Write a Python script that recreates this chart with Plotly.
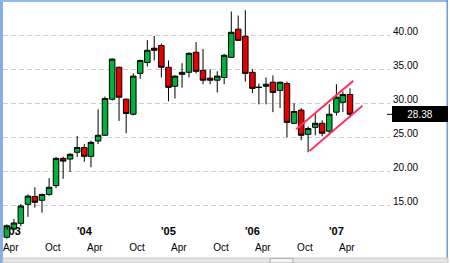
import pandas as pd
import plotly.graph_objects as go

# ---- data (monthly candles, Mar 2003 .. Apr 2007) ----
months = pd.date_range("2003-03-01", periods=50, freq="MS") + pd.Timedelta(days=14)
opens = [10.3, 11.5, 12.35, 15.15, 16.3, 15.74, 16.6, 17.9, 21.9, 21.8,
         22.8, 23.5, 22.2, 24.46, 25.3, 30.6, 35.3, 30.6, 28.4, 34.4,
         36.0, 38.1, 38.5, 35.3, 32.5, 34.26, 34.56, 37.5, 34.85, 33.7,
         33.4, 33.8, 36.76, 40.9, 39.85, 34.56, 32.35, 32.5, 33.1, 31.9,
         32.9, 27.06, 29.0, 25.44, 26.47, 27.06, 25.9, 28.7, 30.15, 31.3]
highs = [12.2, 13.0, 15.2, 16.6, 17.65, 16.7, 19.0, 22.1, 22.15, 22.7,
         25.2, 24.0, 24.5, 29.1, 31.0, 36.6, 35.4, 30.7, 34.4, 36.4,
         39.3, 39.9, 38.8, 36.3, 34.1, 35.9, 37.5, 39.0, 38.0, 35.0,
         34.7, 37.25, 43.5, 42.9, 43.7, 35.0, 32.9, 33.8, 34.1, 33.2,
         33.2, 30.0, 29.3, 26.6, 28.5, 27.5, 29.85, 32.8, 31.76, 32.2]
lows = [10.1, 11.3, 11.9, 13.3, 14.65, 13.9, 16.4, 17.5, 18.9, 19.9,
        22.1, 21.4, 20.6, 24.0, 25.2, 30.4, 27.4, 25.6, 28.2, 33.6,
        35.4, 36.3, 33.8, 30.3, 30.7, 32.3, 33.8, 34.4, 32.8, 32.8,
        31.6, 32.8, 36.7, 39.2, 33.2, 31.5, 29.85, 29.85, 28.7, 29.3,
        25.0, 27.0, 24.56, 22.8, 25.3, 25.15, 25.3, 28.2, 28.7, 27.9]
closes = [12.0, 12.4, 14.9, 16.36, 15.45, 16.6, 17.65, 21.9, 21.5, 22.5,
          23.5, 22.2, 24.26, 25.3, 30.7, 36.5, 30.9, 28.5, 34.0, 36.3,
          37.8, 37.8, 35.3, 32.35, 34.0, 34.56, 37.35, 34.7, 33.4, 33.4,
          34.0, 37.06, 40.44, 39.26, 34.4, 32.2, 32.35, 32.8, 31.6, 33.1,
          27.2, 28.8, 25.3, 26.3, 27.06, 25.6, 28.4, 30.9, 31.3, 28.38]

# trend channel drawn on the chart
upper_x = ["2006-08-24", "2007-04-29"]
upper_y = [26.2, 33.3]
lower_x = ["2006-10-21", "2007-06-08"]
lower_y = [22.98, 29.65]

price_ticks = [15, 20, 25, 30, 35, 40]
price_labels = ["15.00", "20.00", "25.00", "30.00", "35.00", "40.00"]
month_ticks = ["2003-04-01", "2003-10-01", "2004-04-01", "2004-10-01", "2005-04-01",
               "2005-10-01", "2006-04-01", "2006-10-01", "2007-04-01"]
month_labels = ["Apr", "Oct", "Apr", "Oct", "Apr", "Oct", "Apr", "Oct", "Apr"]
year_ticks = ["2003-01-01", "2004-01-01", "2005-01-01", "2006-01-01", "2007-01-01"]
year_labels = ["'03", "'04", "'05", "'06", "'07"]

X_RANGE = ["2003-02-26 12:00", "2007-10-06"]
Y_RANGE = [9.9, 44.75]

W, H = 450, 263
L, R, T, B = 3, 390, 3, 240  # plot area pixel edges


def px(x):
    return (x - L) / (R - L)


def py(y):
    return (B - y) / (B - T)


fig = go.Figure()
fig.add_trace(go.Candlestick(
    x=months, open=opens, high=highs, low=lows, close=closes,
    increasing=dict(line=dict(color="black", width=1), fillcolor="#00b13c"),
    decreasing=dict(line=dict(color="black", width=1), fillcolor="#e60000"),
    whiskerwidth=0, showlegend=False, hoverinfo="skip"))
for xs, ys in ((upper_x, upper_y), (lower_x, lower_y)):
    fig.add_trace(go.Scatter(x=xs, y=ys, mode="lines",
                             line=dict(color="#ff3562", width=2),
                             showlegend=False, hoverinfo="skip"))

FONT = "Liberation Sans, Arial, sans-serif"
annotations = []
x0 = pd.Timestamp(X_RANGE[0])
for xv, txt in zip(year_ticks, year_labels):
    xt = max(pd.Timestamp(xv), x0)
    annotations.append(dict(x=xt, y=py(231), xref="x", yref="paper", text="<b>%s</b>" % txt,
                            showarrow=False, xanchor="left", yanchor="middle", xshift=1,
                            font=dict(family=FONT, size=11, color="black")))
annotations.append(dict(x=1, y=closes[-1], xref="paper", yref="y", text="%.2f" % closes[-1],
                        showarrow=False, xanchor="left", yanchor="middle", xshift=1.5,
                        bgcolor="black", borderwidth=0, width=52, height=12, borderpad=2,
                        align="center",
                        font=dict(family=FONT, size=10, color="white")))

shapes = [
    # last price marker
    dict(type="line", xref="paper", yref="y", x0=px(387), x1=px(392), y0=closes[-1], y1=closes[-1],
         line=dict(color="black", width=1)),
    # frame
    dict(type="rect", xref="paper", yref="paper", x0=px(0), x1=px(3), y0=py(H), y1=py(0),
         fillcolor="#86aee6", line=dict(width=0), layer="above"),
    dict(type="rect", xref="paper", yref="paper", x0=px(0), x1=px(448), y0=py(2), y1=py(0),
         fillcolor="#93b8ea", line=dict(width=0), layer="above"),
    dict(type="rect", xref="paper", yref="paper", x0=px(446.5), x1=px(448), y0=py(258), y1=py(0),
         fillcolor="#6f9be0", line=dict(width=0), layer="above"),
    dict(type="rect", xref="paper", yref="paper", x0=px(3), x1=px(448), y0=py(H), y1=py(258),
         fillcolor="#e6e6e6", line=dict(color="#c8c8c8", width=1), layer="above"),
    dict(type="rect", xref="paper", yref="paper", x0=px(270), x1=px(293), y0=py(H), y1=py(258.5),
         fillcolor="#f4f4f4", line=dict(color="#b0b0b0", width=1), layer="above"),
]

fig.update_layout(
    width=W, height=H,
    margin=dict(l=L, r=W - R, t=T, b=H - B, pad=0),
    paper_bgcolor="white", plot_bgcolor="white",
    boxgap=0.1, boxgroupgap=0.05,
    annotations=annotations, shapes=shapes,
    font=dict(family=FONT, size=10, color="black"),
    xaxis=dict(type="date", range=X_RANGE, rangeslider=dict(visible=False),
               tickvals=month_ticks, ticktext=month_labels, showgrid=False,
               zeroline=False, showline=False, ticks="", ticklabelstandoff=0,
               tickfont=dict(family=FONT, size=10, color="black")),
    yaxis=dict(side="right", range=Y_RANGE, tickvals=price_ticks, ticktext=price_labels,
               showgrid=True, gridcolor="#cfcfcf", griddash="5px,3px", gridwidth=1,
               zeroline=False, showline=False, ticks="", ticklabelshift=-4, ticklabelstandoff=2,
               tickfont=dict(family=FONT, size=10, color="black")),
)

fig.write_html("out.html")
